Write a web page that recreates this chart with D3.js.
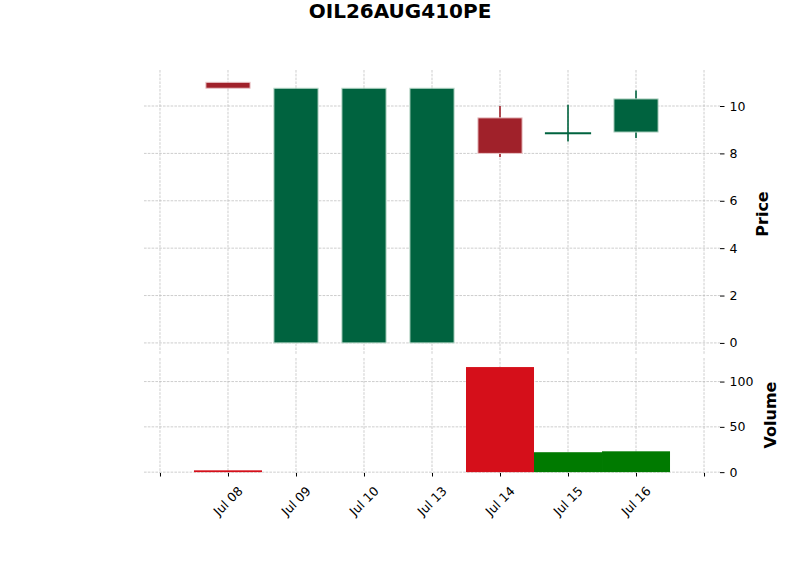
<!doctype html>
<html>
<head>
    <meta charset="utf8">
    <style>
        body { margin: 0; background: #fff; }
        text { font-family: "DejaVu Sans", sans-serif; }
        .grid line { stroke: #b8b8b8; stroke-width: 0.7; stroke-dasharray: 2.6,1.2; }
        .axis text { font-size: 12.5px; fill: #000; }
        .axis line { stroke: #000; stroke-width: 1; }
        .axis .domain { display: none; }
    </style>
    <script src="https://d3js.org/d3.v7.min.js"></script>
</head>
<body>
<svg width="800" height="575"></svg>
<script>

    // chart data
    var dates = ["Jul 08", "Jul 09", "Jul 10", "Jul 13", "Jul 14", "Jul 15", "Jul 16"];
    var opens = [11.0, 0, 0, 0, 9.5, 8.85, 8.9];
    var highs = [11.0, 10.75, 10.75, 10.75, 10.0, 10.05, 10.65];
    var lows = [10.75, 0, 0, 0, 7.85, 8.5, 8.65];
    var closes = [10.75, 10.75, 10.75, 10.75, 8.0, 8.85, 10.3];
    var volumes = [2, 0, 0, 0, 116, 22, 23];
    var priceTicks = [0, 2, 4, 6, 8, 10];
    var volumeTicks = [0, 50, 100];

    var data = dates.map(function(d, i) {
        return {i: i, date: d, open: opens[i], high: highs[i], low: lows[i], close: closes[i], volume: volumes[i]};
    });

    var svg = d3.select("svg");

    var left = 144, right = 720;
    var x = d3.scaleLinear().domain([-1.235, 7.235]).range([left, right]);
    var y = d3.scaleLinear().domain([-0.51, 11.52]).range([355, 70]);
    var yv = d3.scaleLinear().domain([-1.5, 126]).range([473.5, 358]);

    var xTicks = d3.range(-1, 8);
    var upColor = "#00633f", downColor = "#a0212a";
    var volUp = "#007a00", volDown = "#d50f1a";

    // title
    svg.append("text")
       .attr("x", 400)
       .attr("y", 18)
       .attr("text-anchor", "middle")
       .attr("font-size", "20px")
       .attr("font-weight", "bold")
       .text("OIL26AUG410PE");

    // grids
    function grid(yScale, ticks, top, bottom) {
        var g = svg.append("g").attr("class", "grid");
        g.selectAll(".v").data(xTicks).enter().append("line")
         .attr("x1", function(d) { return x(d); })
         .attr("x2", function(d) { return x(d); })
         .attr("y1", top).attr("y2", bottom);
        g.selectAll(".h").data(ticks).enter().append("line")
         .attr("x1", left).attr("x2", right)
         .attr("y1", function(d) { return yScale(d); })
         .attr("y2", function(d) { return yScale(d); });
    }
    grid(y, priceTicks, 70, 355);
    grid(yv, volumeTicks, 358, 473.5);

    // candles
    var w = 0.65;
    var candles = svg.append("g");
    candles.selectAll(".wick").data(data).enter().append("line")
       .attr("x1", function(d) { return x(d.i); })
       .attr("x2", function(d) { return x(d.i); })
       .attr("y1", function(d) { return y(d.high); })
       .attr("y2", function(d) { return y(d.low); })
       .attr("stroke", function(d) { return d.close >= d.open ? upColor : downColor; })
       .attr("stroke-width", 1.6);

    candles.selectAll(".body").data(data).enter().append("rect")
       .attr("x", function(d) { return x(d.i - w / 2); })
       .attr("width", x(w) - x(0))
       .attr("y", function(d) { return Math.min(y(d.open), y(d.close)); })
       .attr("height", function(d) { return Math.max(Math.abs(y(d.open) - y(d.close)), 0.01); })
       .attr("fill", function(d) { return d.close >= d.open ? upColor : downColor; })
       .attr("stroke", function(d) {
           if (d.open === d.close) return upColor;
           return d.close > d.open ? "#bcd9cb" : "#eac6c9";
       })
       .attr("stroke-width", function(d) { return d.open === d.close ? 2 : 1; });

    // volume bars
    svg.append("g").selectAll("rect").data(data).enter().append("rect")
       .attr("x", function(d) { return x(d.i - 0.5); })
       .attr("width", x(1) - x(0))
       .attr("y", function(d) { return yv(d.volume); })
       .attr("height", function(d) { return yv(0) - yv(d.volume); })
       .attr("fill", function(d) { return d.close >= d.open ? volUp : volDown; });

    // y axes on the right
    svg.append("g")
       .attr("class", "axis")
       .attr("transform", "translate(" + (right) + ",0)")
       .call(d3.axisRight(y).tickValues(priceTicks).tickSize(4.5).tickPadding(5).tickFormat(d3.format("d")));

    svg.append("g")
       .attr("class", "axis")
       .attr("transform", "translate(" + (right) + ",0)")
       .call(d3.axisRight(yv).tickValues(volumeTicks).tickSize(4.5).tickPadding(5).tickFormat(d3.format("d")));

    // x axis
    var xa = svg.append("g")
       .attr("class", "axis")
       .attr("transform", "translate(0,473)")
       .call(d3.axisBottom(x).tickValues(xTicks).tickSize(3.5).tickFormat(""));

    svg.append("g").selectAll("text").data(data).enter().append("text")
       .attr("transform", function(d) { return "translate(" + x(d.i) + ",501) rotate(-45)"; })
       .attr("text-anchor", "middle")
       .attr("dominant-baseline", "central")
       .attr("font-size", "12.5px")
       .text(function(d) { return d.date; });

    // axis labels
    svg.append("text")
       .attr("transform", "translate(768,214) rotate(-90)")
       .attr("text-anchor", "middle")
       .attr("font-size", "16px")
       .attr("font-weight", "bold")
       .text("Price");

    svg.append("text")
       .attr("transform", "translate(776,415) rotate(-90)")
       .attr("text-anchor", "middle")
       .attr("font-size", "16px")
       .attr("font-weight", "bold")
       .text("Volume");

</script>
</body>
</html>
